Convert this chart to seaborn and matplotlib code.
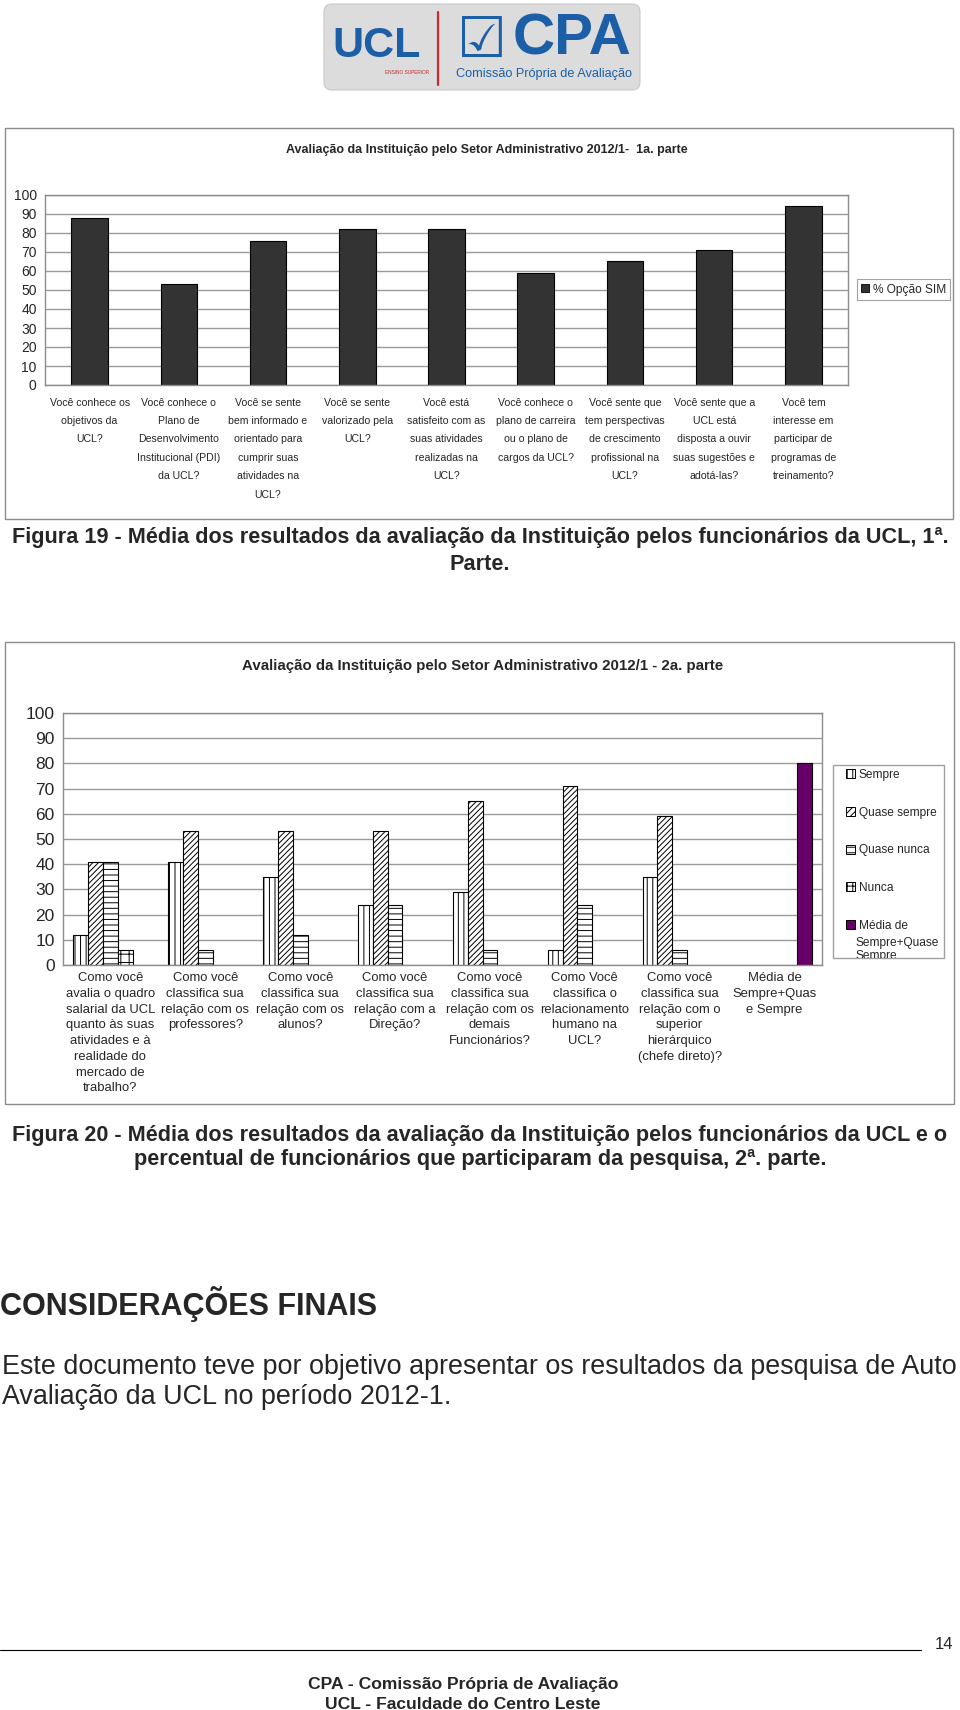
import numpy as np
import pandas as pd
import seaborn as sns
import matplotlib
matplotlib.use("Agg")
import matplotlib.pyplot as plt
from matplotlib import font_manager
from matplotlib.patches import Patch, Rectangle, FancyBboxPatch
from matplotlib.transforms import Bbox, TransformedBbox

# ---------------------------------------------------------------------------
# Data
# ---------------------------------------------------------------------------
perguntas_1 = [
    "Você conhece os\nobjetivos da\nUCL?",
    "Você conhece o\nPlano de\nDesenvolvimento\nInstitucional (PDI)\nda UCL?",
    "Você se sente\nbem informado e\norientado para\ncumprir suas\natividades na\nUCL?",
    "Você se sente\nvalorizado pela\nUCL?",
    "Você está\nsatisfeito com as\nsuas atividades\nrealizadas na\nUCL?",
    "Você conhece o\nplano de carreira\nou o plano de\ncargos da UCL?",
    "Você sente que\ntem perspectivas\nde crescimento\nprofissional na\nUCL?",
    "Você sente que a\nUCL está\ndisposta a ouvir\nsuas sugestões e\nadotá-las?",
    "Você tem\ninteresse em\nparticipar de\nprogramas de\ntreinamento?",
]
opcao_sim = [88, 53, 76, 82, 82, 59, 65, 71, 94]

perguntas_2 = [
    "Como você\navalia o quadro\nsalarial da UCL\nquanto às suas\natividades e à\nrealidade do\nmercado de\ntrabalho?",
    "Como você\nclassifica sua\nrelação com os\nprofessores?",
    "Como você\nclassifica sua\nrelação com os\nalunos?",
    "Como você\nclassifica sua\nrelação com a\nDireção?",
    "Como você\nclassifica sua\nrelação com os\ndemais\nFuncionários?",
    "Como Você\nclassifica o\nrelacionamento\nhumano na\nUCL?",
    "Como você\nclassifica sua\nrelação com o\nsuperior\nhierárquico\n(chefe direto)?",
    "Média de\nSempre+Quas\ne Sempre",
]
respostas = ["Sempre", "Quase sempre", "Quase nunca", "Nunca",
             "Média de Sempre+Quase Sempre"]
sempre = [12, 41, 35, 24, 29, 6, 35, np.nan]
quase_sempre = [41, 53, 53, 53, 65, 71, 59, np.nan]
quase_nunca = [41, 6, 12, 24, 6, 24, 6, np.nan]
nunca = [6, 0, 0, 0, 0, 0, 0, np.nan]
media = [np.nan, np.nan, np.nan, np.nan, np.nan, np.nan, np.nan, 80]

titulo_1 = "Avaliação da Instituição pelo Setor Administrativo 2012/1-  1a. parte"
titulo_2 = "Avaliação da Instituição pelo Setor Administrativo 2012/1 - 2a. parte"

# ---------------------------------------------------------------------------
# Style
# ---------------------------------------------------------------------------
sns.set_style("white")
names = {f.name for f in font_manager.fontManager.ttflist}
NARROW = "Liberation Sans Narrow" if "Liberation Sans Narrow" in names else "Liberation Sans"
plt.rcParams["font.family"] = ["Liberation Sans", "DejaVu Sans"]
plt.rcParams["hatch.linewidth"] = 0.7

W, H = 960, 1710
fig = plt.figure(figsize=(W / 100, H / 100), dpi=100)


def px_rect(x0, y0, x1, y1):
    return [x0 / W, 1 - y1 / H, (x1 - x0) / W, (y1 - y0) / H]


def ptxt(x, y, s, **kw):
    return fig.text(x / W, 1 - y / H, s, **kw)


def frame(x0, y0, x1, y1, color="#8c8c8c", lw=1.0):
    fig.patches.append(Rectangle((x0 / W, 1 - y1 / H), (x1 - x0) / W, (y1 - y0) / H,
                                 transform=fig.transFigure, fill=False,
                                 edgecolor=color, linewidth=lw))


def style_axes(ax, n, tick_size, tick_family):
    ax.set_ylim(0, 100)
    ax.set_yticks(range(0, 101, 10))
    ax.set_xlim(-0.5, n - 0.5)
    ax.yaxis.grid(True, color="#9a9a9a", linewidth=1)
    ax.set_axisbelow(True)
    ax.set_xlabel("")
    ax.set_ylabel("")
    for side in ["top", "right", "left", "bottom"]:
        ax.spines[side].set_visible(True)
        ax.spines[side].set_color("#8c8c8c")
        ax.spines[side].set_linewidth(1)
    ax.set_xticks(np.arange(-0.5, n), minor=True)
    ax.tick_params(axis="x", which="major", length=0)
    ax.tick_params(axis="x", which="minor", length=4, color="#8c8c8c", direction="out")
    ax.tick_params(axis="y", length=4, color="#8c8c8c", direction="out",
                   labelsize=tick_size, pad=2)
    for lab in ax.get_yticklabels():
        lab.set_family(tick_family)


# ---------------------------------------------------------------------------
# Logo
# ---------------------------------------------------------------------------
lax = fig.add_axes(px_rect(322, 2, 642, 92))
lax.set_xlim(0, 320)
lax.set_ylim(90, 0)
lax.axis("off")
box = FancyBboxPatch((2, 2), 316, 86, boxstyle="round,pad=0,rounding_size=8",
                     facecolor="#dcdcdc", edgecolor="#c8c8c8", linewidth=0.8)
lax.add_patch(box)
grad = np.linspace(0.80, 0.95, 256).reshape(1, -1)
img = lax.imshow(np.vstack([grad, grad]), cmap="gray", vmin=0, vmax=1,
                 extent=(2, 318, 88, 2), aspect="auto")
img.set_clip_path(box)
lax.text(55, 44, "UCL", color="#1d5fa6", fontsize=31, fontweight="bold",
         ha="center", va="center")
lax.text(85, 70, "ENSINO SUPERIOR", color="#c0282d", fontsize=3.4,
         ha="center", va="center")
lax.plot([116, 116], [10, 83], color="#d9262b", lw=1.6)
lax.text(160, 40, "\u2611", color="#1d5fa6", fontsize=40, ha="center",
         va="center", family="DejaVu Sans")
lax.text(250, 37, "CPA", color="#1d5fa6", fontsize=42, fontweight="bold",
         ha="center", va="center")
lax.text(222, 72, "Comissão Própria de Avaliação", color="#1d5fa6",
         fontsize=9.2, ha="center", va="center")

# ---------------------------------------------------------------------------
# Chart 1
# ---------------------------------------------------------------------------
frame(5, 128, 953, 519)
ptxt(487, 150, titulo_1, ha="center", va="center", fontsize=9,
     fontweight="bold", family=NARROW)

ax1 = fig.add_axes(px_rect(45, 195, 848, 385))
df1 = pd.DataFrame({"pergunta": perguntas_1, "sim": opcao_sim})
sns.barplot(data=df1, x="pergunta", y="sim", order=perguntas_1,
            color="#333333", saturation=1, edgecolor="black", linewidth=0.8,
            width=0.41, ax=ax1)
style_axes(ax1, len(perguntas_1), 10, NARROW)
ax1.tick_params(axis="x", which="major", labelsize=7.6, pad=9)
for lab in ax1.get_xticklabels():
    lab.set_family(NARROW)
    lab.set_linespacing(2.05)
    lab.set_va("top")

leg1 = fig.legend(handles=[Patch(facecolor="#333333", edgecolor="black", linewidth=0.6)],
                  labels=["% Opção SIM"], loc="center",
                  bbox_to_anchor=(903.5 / W, 1 - 289.5 / H), frameon=True,
                  fancybox=False, edgecolor="#8c8c8c", handlelength=0.7,
                  handleheight=0.7, handletextpad=0.3, borderpad=0.35,
                  prop={"family": NARROW, "size": 8.6})
leg1.get_frame().set_linewidth(0.8)

ptxt(480, 538, "Figura 19 - Média dos resultados da avaliação da Instituição pelos funcionários da UCL, 1ª.",
     ha="center", va="center", fontsize=15.6, fontweight="bold", family=NARROW)
ptxt(480, 564, "Parte.", ha="center", va="center", fontsize=15.6,
     fontweight="bold", family=NARROW)

# ---------------------------------------------------------------------------
# Chart 2
# ---------------------------------------------------------------------------
frame(5, 642, 954, 1104)
ptxt(483, 666, titulo_2, ha="center", va="center", fontsize=10.8,
     fontweight="bold")

ax2 = fig.add_axes(px_rect(63, 713, 822, 965))
df2 = pd.DataFrame({
    "pergunta": perguntas_2 * 5,
    "resposta": sum([[r] * len(perguntas_2) for r in respostas], []),
    "valor": sempre + quase_sempre + quase_nunca + nunca + media,
})
cores = {r: "white" for r in respostas}
cores[respostas[-1]] = "#660066"
sns.barplot(data=df2, x="pergunta", y="valor", hue="resposta",
            order=perguntas_2, hue_order=respostas, palette=cores,
            saturation=1, edgecolor="black", linewidth=0.8, width=0.78,
            gap=0, legend=False, ax=ax2)
hachuras = ["|||", "//////", "---", "++", ""]
for cont, hh in zip(ax2.containers, hachuras):
    for bar in cont:
        bar.set_hatch(hh)
        if not np.isfinite(bar.get_height()) or bar.get_height() == 0:
            bar.set_visible(False)
style_axes(ax2, len(perguntas_2), 12.5, "Liberation Sans")
ax2.tick_params(axis="x", which="major", labelsize=9.4, pad=5)
for lab in ax2.get_xticklabels():
    lab.set_linespacing(1.42)

# legend of chart 2: box drawn separately so the long last label is cut by it
handles2 = [Patch(facecolor=cores[r], edgecolor="black", hatch=hh, linewidth=0.7)
            for r, hh in zip(respostas, ["|||", "/////", "---", "+++", ""])]
labels2 = ["Sempre", "Quase sempre", "Quase nunca", "Nunca", "Média de"]
frame(833, 765, 944, 958, color="#a0a0a0")
leg2 = fig.legend(handles=handles2, labels=labels2, loc="upper left",
                  bbox_to_anchor=(840 / W, 1 - 763 / H), frameon=False,
                  handlelength=0.75, handleheight=0.75, handletextpad=0.3,
                  labelspacing=2.15, borderpad=0, prop={"size": 8.6})
clip = TransformedBbox(Bbox([[833 / W, 1 - 958 / H], [944 / W, 1 - 765 / H]]),
                       fig.transFigure)
resto = ptxt(856, 937, "Sempre+Quase\nSempre", ha="left", va="top",
             fontsize=8.6, linespacing=1.15)
resto.set_clip_box(clip)
resto.set_clip_on(True)

ptxt(480, 1135, "Figura 20 - Média dos resultados da avaliação da Instituição pelos funcionários da UCL e o",
     ha="center", va="center", fontsize=15.6, fontweight="bold", family=NARROW)
ptxt(480, 1159, "percentual de funcionários que participaram da pesquisa, 2ª. parte.",
     ha="center", va="center", fontsize=15.6, fontweight="bold", family=NARROW)

# ---------------------------------------------------------------------------
# Page text
# ---------------------------------------------------------------------------
ptxt(0, 1304, "CONSIDERAÇÕES FINAIS", ha="left", va="center", fontsize=22,
     fontweight="bold", family=NARROW)
ptxt(2, 1367, "Este documento teve por objetivo apresentar os resultados da pesquisa de Auto",
     ha="left", va="center", fontsize=19.4, family=NARROW)
ptxt(2, 1397, "Avaliação da UCL no período 2012-1.", ha="left", va="center",
     fontsize=19.4, family=NARROW)

fig.add_artist(plt.Line2D([0, 921 / W], [1 - 1650 / H, 1 - 1650 / H],
                          transform=fig.transFigure, color="black", lw=0.8))
ptxt(944, 1644, "14", ha="center", va="center", fontsize=12, family=NARROW)
ptxt(463, 1684, "CPA - Comissão Própria de Avaliação", ha="center", va="center",
     fontsize=12.6, fontweight="bold", family=NARROW)
ptxt(463, 1704, "UCL - Faculdade do Centro Leste", ha="center", va="center",
     fontsize=12.6, fontweight="bold", family=NARROW)

fig.savefig("out.png", dpi=100, facecolor="white")
